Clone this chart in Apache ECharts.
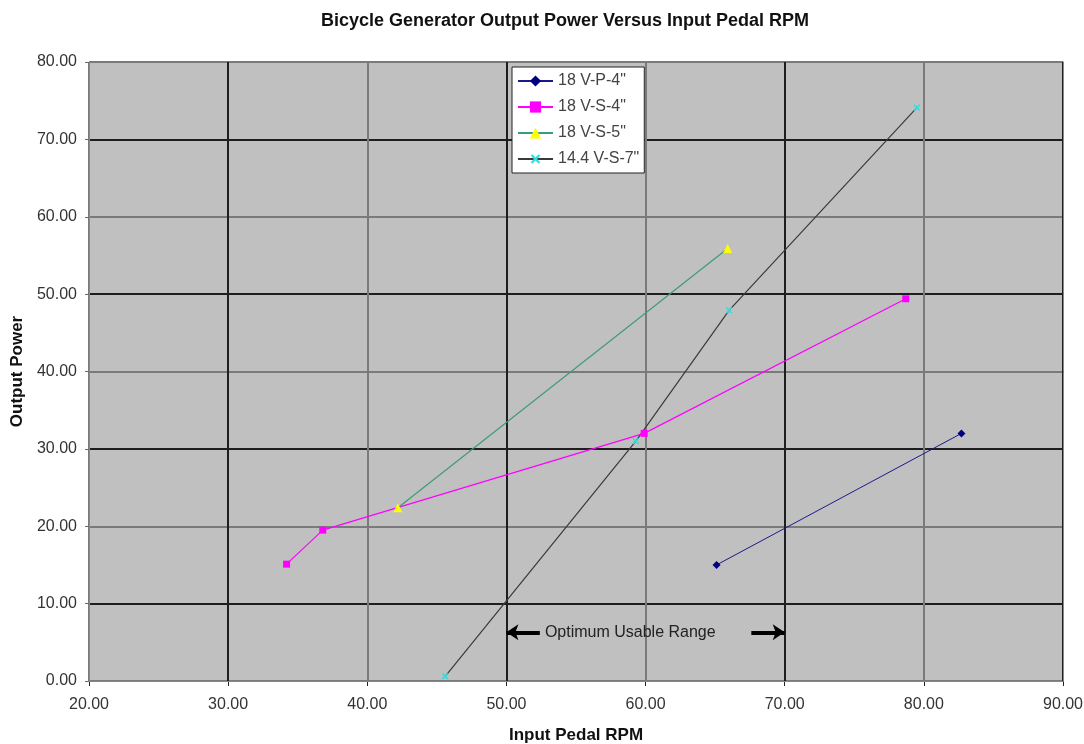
<!DOCTYPE html>
<html><head><meta charset="utf-8">
<script src="https://cdn.jsdelivr.net/npm/echarts@6/dist/echarts.min.js"></script>
<style>html,body{margin:0;padding:0;background:#fff;}#c{width:1084px;height:744px;}</style>
</head><body><div id="c"></div>
<script>
const titleText = 'Bicycle Generator Output Power Versus Input Pedal RPM';
const xName = 'Input Pedal RPM';
const yName = 'Output Power';
const seriesNames = ['18 V-P-4"', '18 V-S-4"', '18 V-S-5"', '14.4 V-S-7"'];
const s1 = [[65.1, 15.0], [82.7, 32.0]];
const s2 = [[34.2, 15.1], [36.8, 19.5], [59.9, 32.0], [78.7, 49.4]];
const s3 = [[42.2, 22.4], [65.9, 55.9]];
const s4 = [[45.6, 0.6], [59.3, 31.0], [66.0, 47.9], [79.5, 74.1]];
const annotText = 'Optimum Usable Range';
const annotY = 6.3;
const arrowLeft = [52.4, 50];
const arrowRight = [67.6, 70];
const annotTextX = 58.9;

const FONT = '"Liberation Sans", Arial, sans-serif';
const chart = echarts.init(document.getElementById('c'));
const gridCols = ['#7a7a7a', '#1e1e1e'];
const axisLabel = {fontFamily: FONT, fontSize: 16, color: '#333', formatter: v => v.toFixed(2)};
chart.setOption({
  animation: false,
  backgroundColor: '#fff',
  title: {text: titleText, left: 560, top: 7, textAlign: 'center',
    textStyle: {fontFamily: FONT, fontSize: 18, fontWeight: 'bold', color: '#111'}},
  legend: {data: seriesNames, orient: 'vertical', left: 512, top: 67,
    backgroundColor: '#fff', borderColor: '#222', borderWidth: 1,
    padding: [6, 5, 6, 5], itemWidth: 35, itemHeight: 14, itemGap: 10,
    textStyle: {fontFamily: FONT, fontSize: 16, color: '#444', lineHeight: 16}},
  grid: {left: 89, right: 21, top: 62, bottom: 63, show: true, containLabel: false, outerBoundsMode: 'none',
    backgroundColor: '#c0c0c0', borderColor: '#888', borderWidth: 1},
  xAxis: [{type: 'value', min: 20, max: 90, interval: 10,
    name: xName, nameLocation: 'middle', nameGap: 46,
    nameTextStyle: {fontFamily: FONT, fontSize: 17, fontWeight: 'bold', color: '#111'},
    axisLine: {show: true, onZero: false, lineStyle: {color: '#888'}},
    axisTick: {show: true, length: 5, lineStyle: {color: '#222'}},
    axisLabel: Object.assign({margin: 16}, axisLabel),
    splitLine: {show: true, lineStyle: {color: gridCols, width: 2}}},
   {type: 'value', min: 20, max: 90, position: 'top', z: 5,
    axisLine: {show: true, lineStyle: {color: '#888', width: 1}}, axisTick: {show: false}, axisLabel: {show: false}, splitLine: {show: false}}],
  yAxis: [{type: 'value', min: 0, max: 80, interval: 10,
    name: yName, nameLocation: 'middle', nameGap: 62,
    nameTextStyle: {fontFamily: FONT, fontSize: 17, fontWeight: 'bold', color: '#111'},
    axisLine: {show: true, onZero: false, lineStyle: {color: '#888'}},
    axisTick: {show: true, length: 4, lineStyle: {color: '#666'}},
    axisLabel: Object.assign({margin: 12}, axisLabel),
    splitLine: {show: true, lineStyle: {color: gridCols, width: 2}}},
   {type: 'value', min: 0, max: 80, position: 'right', z: 5,
    axisLine: {show: true, lineStyle: {color: '#888', width: 1}}, axisTick: {show: false}, axisLabel: {show: false}, splitLine: {show: false}}],
  series: [
    {name: seriesNames[0], type: 'line', data: s1, symbol: 'diamond', symbolSize: 8,
      itemStyle: {color: '#000080'}, lineStyle: {color: '#1a1a8a', width: 1}, z: 10},
    {name: seriesNames[1], type: 'line', data: s2, symbol: 'rect', symbolSize: 7,
      itemStyle: {color: '#ff00ff'}, lineStyle: {color: '#ff00ff', width: 1.2}, z: 10},
    {name: seriesNames[2], type: 'line', data: s3, symbol: 'triangle', symbolSize: 9,
      itemStyle: {color: '#ffff00'}, lineStyle: {color: '#3f9a78', width: 1.2}, z: 11},
    {name: seriesNames[3], type: 'line', data: s4,
      symbol: 'path://M4,0H6V4H10V6H6V10H4V6H0V4H4Z', symbolRotate: 45, symbolSize: 8,
      itemStyle: {color: '#33dddd'}, lineStyle: {color: '#3a3a3a', width: 1.2}, z: 9},
    {name: 'annot', type: 'line', data: [[annotTextX, annotY]], symbolSize: 0, silent: true,
      lineStyle: {width: 0},
      label: {show: true, position: 'inside', formatter: annotText, fontFamily: FONT, fontSize: 16, color: '#222'},
      markLine: {silent: true, symbol: ['none', 'arrow'], symbolSize: [12, 12],
        lineStyle: {color: '#000', width: 4, type: 'solid'}, label: {show: false},
        data: [[{coord: [arrowLeft[0], annotY]}, {coord: [arrowLeft[1], annotY]}],
               [{coord: [arrowRight[0], annotY]}, {coord: [arrowRight[1], annotY]}]]}}
  ]
});
</script></body></html>
